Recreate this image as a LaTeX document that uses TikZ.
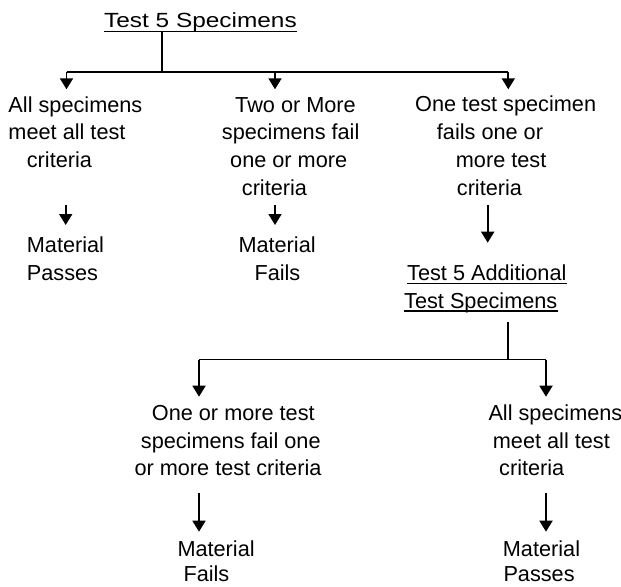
\documentclass[tikz,border=0pt]{standalone}
\usepackage{fontspec}
\usepackage{graphicx}
\setmainfont{Liberation Sans}
\usetikzlibrary{arrows.meta}
\newcommand\bodyfont{\fontsize{21.7bp}{27.7bp}\selectfont}
\newcommand\titlefont{\fontsize{20.5bp}{27.7bp}\selectfont}
\begin{document}
\begin{tikzpicture}[x=1bp,y=-1bp,
  txt/.style={anchor=base west,inner sep=0pt,font=\bodyfont},
  conn/.style={line width=1.8bp},
  arr/.style={line width=1.8bp,-{Triangle[width=13bp,length=11bp]}},
  uline/.style={line width=1.6bp}]
\useasboundingbox (0,0) rectangle (621,587);
% title
\node[txt,font=\titlefont] (t0) at (104,27.3) {\scalebox{1.19}[1]{Test 5 Specimens}};
\draw[uline] ([yshift=-4.4bp]t0.base west) -- ([yshift=-4.4bp]t0.base east);
% top branching
\coordinate (root) at (162.3,32.5);
\coordinate (j0) at (162.3,71.7);
\coordinate (hA) at (66.5,71.7);
\coordinate (hB) at (275,71.7);
\coordinate (hC) at (508.3,71.7);
\coordinate (tA) at (66.5,89.3);
\coordinate (tB) at (275,89.3);
\coordinate (tC) at (508.3,89.3);
\draw[conn] (root) -- (j0);
\draw[conn] (hA) -- (hC);
\draw[arr] (hA) -- (tA);
\draw[arr] (hB) -- (tB);
\draw[arr] (hC) -- (tC);
% block A
\node[txt] (a1) at (8.3,112.3) {All specimens};
\node[txt] (a2) at (8.3,140) {meet all test};
\node[txt] (a3) at (26.7,167.3) {criteria};
\node[txt] (a4) at (26.7,252.3) {Material};
\node[txt] (a5) at (26.7,280) {Passes};
\coordinate (sA) at (65.7,205);
\coordinate (eA) at (65.7,225);
\draw[arr] (sA) -- (eA);
% block B
\node[txt] (b1) at (235,112.3) {Two or More};
\node[txt] (b2) at (221.7,140) {specimens fail};
\node[txt] (b3) at (230,167.3) {one or more};
\node[txt] (b4) at (241.7,195) {criteria};
\node[txt] (b5) at (238.3,252.3) {Material};
\node[txt] (b6) at (254.3,280) {Fails};
\coordinate (sB) at (275,205);
\coordinate (eB) at (275,225);
\draw[arr] (sB) -- (eB);
% block C
\node[txt] (c1) at (415,111.7) {One test specimen};
\node[txt] (c2) at (436.7,140) {fails one or};
\node[txt] (c3) at (455.7,167.3) {more test};
\node[txt] (c4) at (456.7,195) {criteria};
\coordinate (sC) at (487.7,205);
\coordinate (eC) at (487.7,242.7);
\draw[arr] (sC) -- (eC);
\node[txt] (c5) at (407,280) {Test 5 Additional};
\node[txt] (c6) at (404,308.3) {Test Specimens};
\draw[uline] ([yshift=-3.3bp]c5.base west) -- ([yshift=-3.3bp]c5.base east);
\draw[uline] ([yshift=-2.8bp]c6.base west) -- ([yshift=-2.8bp]c6.base east);
% second branching
\coordinate (root2) at (508.3,321.7);
\coordinate (j2) at (508.3,359.5);
\coordinate (hD) at (199,359.5);
\coordinate (hE) at (546,359.5);
\coordinate (tD) at (199,396.7);
\coordinate (tE) at (546,396.7);
\draw[conn] (root2) -- (j2);
\draw[conn] (hD) -- (hE);
\draw[arr] (hD) -- (tD);
\draw[arr] (hE) -- (tE);
% block D
\node[txt] (d1) at (151.7,420) {One or more test};
\node[txt] (d2) at (140.7,448) {specimens fail one};
\node[txt] (d3) at (134.3,475.7) {or more test criteria};
\coordinate (sD) at (199,493.3);
\coordinate (eD) at (199,531.7);
\draw[arr] (sD) -- (eD);
\node[txt] (d4) at (177.3,556.5) {Material};
\node[txt] (d5) at (183.3,581.5) {Fails};
% block E
\node[txt] (e1) at (488.3,420.7) {All specimens};
\node[txt] (e2) at (492.7,448.3) {meet all test};
\node[txt] (e3) at (499,475.7) {criteria};
\coordinate (sE) at (546,493.3);
\coordinate (eE) at (546,531.7);
\draw[arr] (sE) -- (eE);
\node[txt] (e4) at (502.7,556.5) {Material};
\node[txt] (e5) at (503.3,581.5) {Passes};
\end{tikzpicture}
\end{document}
